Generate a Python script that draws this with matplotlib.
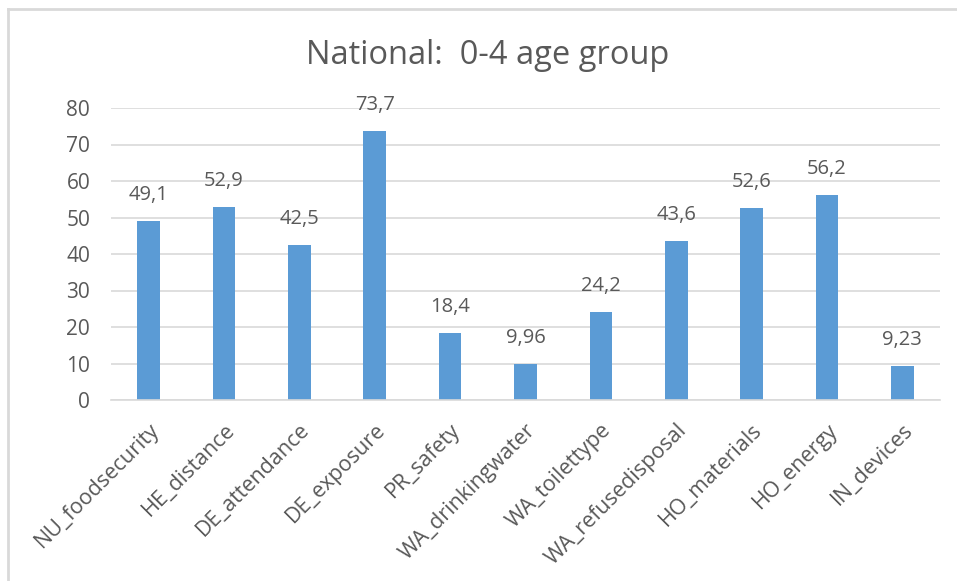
import matplotlib
matplotlib.use("Agg")
import matplotlib.pyplot as plt
from matplotlib.lines import Line2D

categories = ["NU_foodsecurity", "HE_distance", "DE_attendance", "DE_exposure",
              "PR_safety", "WA_drinkingwater", "WA_toilettype", "WA_refusedisposal",
              "HO_materials", "HO_energy", "IN_devices"]
values = [49.1, 52.9, 42.5, 73.7, 18.4, 9.96, 24.2, 43.6, 52.6, 56.2, 9.23]
yticks = [0, 10, 20, 30, 40, 50, 60, 70, 80]
title = "National:  0-4 age group"

plt.rcParams["font.family"] = ["Open Sans", "DejaVu Sans"]
TEXT = "#595959"
GRID = "#D9D9D9"
BAR = "#5B9BD5"

W, H = 957, 581
fig = plt.figure(figsize=(W / 100, H / 100), dpi=100)
ax = fig.add_axes([111 / W, (H - 400) / H, 829 / W, 292 / H])

x = list(range(len(categories)))
bars = ax.bar(x, values, width=0.3, color=BAR, zorder=2)

def fmt(v):
    s = f"{v:.3g}"
    return s.replace(".", ",")

for xi, v in zip(x, values):
    ax.annotate(fmt(v), (xi, v), xytext=(0, 16), textcoords="offset pixels",
                ha="center", va="bottom", fontsize=14.5, color=TEXT)

ax.set_xlim(-0.5, len(categories) - 0.5)
ax.set_ylim(0, 80)
ax.set_yticks(yticks)
ax.set_yticklabels([str(t) for t in yticks], fontsize=15, color=TEXT)
ax.set_xticks(x)
ax.set_xticklabels(categories, rotation=45, ha="right", va="top",
                   rotation_mode="anchor", fontsize=15.5, color=TEXT)
ax.tick_params(axis="both", length=0)
ax.tick_params(axis="y", pad=15)
ax.tick_params(axis="x", pad=14)
ax.grid(axis="y", color=GRID, linewidth=1.2, zorder=0)
for s in ["top", "right", "left"]:
    ax.spines[s].set_visible(False)
ax.spines["bottom"].set_color(GRID)
ax.spines["bottom"].set_linewidth(1.2)

fig.text(488 / W, 1 - 55 / H, title, ha="center", va="center",
         fontsize=23.5, color=TEXT)

# outer chart frame (top and left edges)
fig.add_artist(Line2D([8 / W, 1.0], [1 - 9 / H, 1 - 9 / H], color=GRID,
                      linewidth=2, transform=fig.transFigure))
fig.add_artist(Line2D([8 / W, 8 / W], [0.0, 1 - 9 / H], color=GRID,
                      linewidth=2, transform=fig.transFigure))

fig.savefig("out.png", dpi=100, facecolor="white")
